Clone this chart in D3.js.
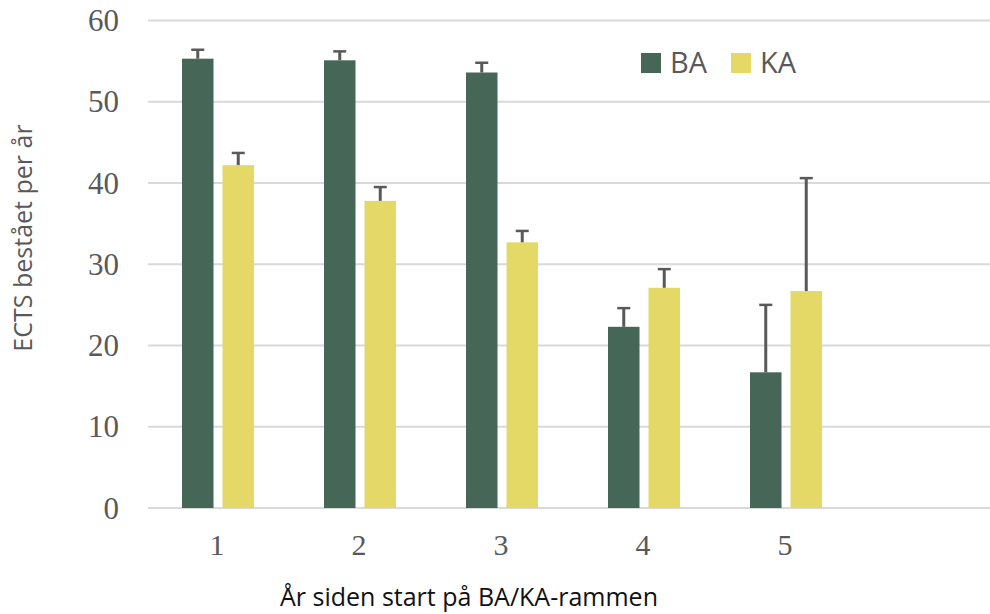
<!DOCTYPE html>
<html>
<head>
<meta charset="utf-8">
<script src="https://cdn.jsdelivr.net/npm/d3@7/dist/d3.min.js"></script>
<style>
  html, body { margin: 0; padding: 0; background: #fff; }
  svg { display: block; }
</style>
</head>
<body>
<svg id="chart" width="990" height="614"></svg>
<script>
// Data
const categories = ["1", "2", "3", "4", "5", ""]   // 6th slot is empty in the original
const series = ["BA", "KA"]
const baValues = [55.3, 55.1, 53.6, 22.3, 16.7]
const kaValues = [42.2, 37.8, 32.7, 27.1, 26.7]
const baErrTop = [56.4, 56.2, 54.8, 24.6, 25.0]
const kaErrTop = [43.7, 39.5, 34.1, 29.4, 40.6]
const yTicks = [0, 10, 20, 30, 40, 50, 60]

const COLORS = {
  BA: "#466658",
  KA: "#E4D967",
}

const W = 990, H = 614
const svg = d3.select("#chart")

const y = d3.scaleLinear().domain([0, 60]).range([508, 20.5])
const x = d3.scaleBand().domain(categories).range([147, 999])
  .paddingInner(0.493).paddingOuter(0.2465)
const x1 = d3.scaleBand().domain(series).range([0, x.bandwidth()])
  .paddingInner(0.222).paddingOuter(0)

// Gridlines
svg.append("g").attr("class", "grid")
  .selectAll("line")
  .data(yTicks)
  .join("line")
  .attr("x1", 148)
  .attr("x2", W)
  .attr("y1", d => y(d))
  .attr("y2", d => y(d))
  .attr("stroke", "#D9D9D9")
  .attr("stroke-width", 2)

// Y tick labels
svg.append("g").attr("class", "y-labels")
  .selectAll("text")
  .data(yTicks)
  .join("text")
  .attr("x", 119)
  .attr("y", d => y(d))
  .attr("dy", "0.34em")
  .attr("text-anchor", "end")
  .attr("font-family", "'Liberation Serif', 'Times New Roman', serif")
  .attr("font-size", "31px")
  .attr("fill", "#595959")
  .text(d => d)

// X tick labels
svg.append("g").attr("class", "x-labels")
  .selectAll("text")
  .data(categories)
  .join("text")
  .attr("x", d => x(d) + x.bandwidth() / 2 - 1)
  .attr("y", 555)
  .attr("text-anchor", "middle")
  .attr("font-family", "'Liberation Serif', 'Times New Roman', serif")
  .attr("font-size", "30px")
  .attr("fill", "#595959")
  .text(d => d)

// Bars + error bars
const rows = baValues.map((v, i) => ([
  { cat: categories[i], key: "BA", value: v, err: baErrTop[i] },
  { cat: categories[i], key: "KA", value: kaValues[i], err: kaErrTop[i] },
])).flat()

const barX = d => x(d.cat) + x1(d.key)

svg.append("g").attr("class", "bars")
  .selectAll("rect")
  .data(rows)
  .join("rect")
  .attr("x", barX)
  .attr("y", d => y(d.value))
  .attr("width", x1.bandwidth())
  .attr("height", d => y(0) - y(d.value))
  .attr("fill", d => COLORS[d.key])

const errG = svg.append("g").attr("class", "errors")
errG.selectAll("line.stem")
  .data(rows)
  .join("line")
  .attr("class", "stem")
  .attr("x1", d => barX(d) + x1.bandwidth() / 2)
  .attr("x2", d => barX(d) + x1.bandwidth() / 2)
  .attr("y1", d => y(d.value))
  .attr("y2", d => y(d.err))
  .attr("stroke", "#595959")
  .attr("stroke-width", 3)

errG.selectAll("line.cap")
  .data(rows)
  .join("line")
  .attr("class", "cap")
  .attr("x1", d => barX(d) + x1.bandwidth() / 2 - 6.5)
  .attr("x2", d => barX(d) + x1.bandwidth() / 2 + 6.5)
  .attr("y1", d => y(d.err))
  .attr("y2", d => y(d.err))
  .attr("stroke", "#595959")
  .attr("stroke-width", 2.5)

// Legend
const legend = svg.append("g").attr("class", "legend")
const legendX = [641, 731]
series.forEach((s, i) => {
  legend.append("rect")
    .attr("x", legendX[i])
    .attr("y", 53)
    .attr("width", 20)
    .attr("height", 20)
    .attr("fill", COLORS[s])
  legend.append("text")
    .attr("x", legendX[i] + 29)
    .attr("y", 73)
    .attr("font-family", "'Open Sans', 'Noto Sans', sans-serif")
    .attr("font-size", "29px")
    .attr("fill", "#595959")
    .text(s)
})

// Axis titles
svg.append("text")
  .attr("x", 469)
  .attr("y", 606)
  .attr("text-anchor", "middle")
  .attr("font-family", "'Open Sans', 'Noto Sans', sans-serif")
  .attr("font-size", "25px")
  .attr("fill", "#111")
  .text("År siden start på BA/KA-rammen")

svg.append("text")
  .attr("transform", "translate(32,238) rotate(-90)")
  .attr("text-anchor", "middle")
  .attr("font-family", "'Open Sans', 'Noto Sans', sans-serif")
  .attr("font-size", "25px")
  .attr("fill", "#595959")
  .text("ECTS bestået per år")
</script>
</body>
</html>
